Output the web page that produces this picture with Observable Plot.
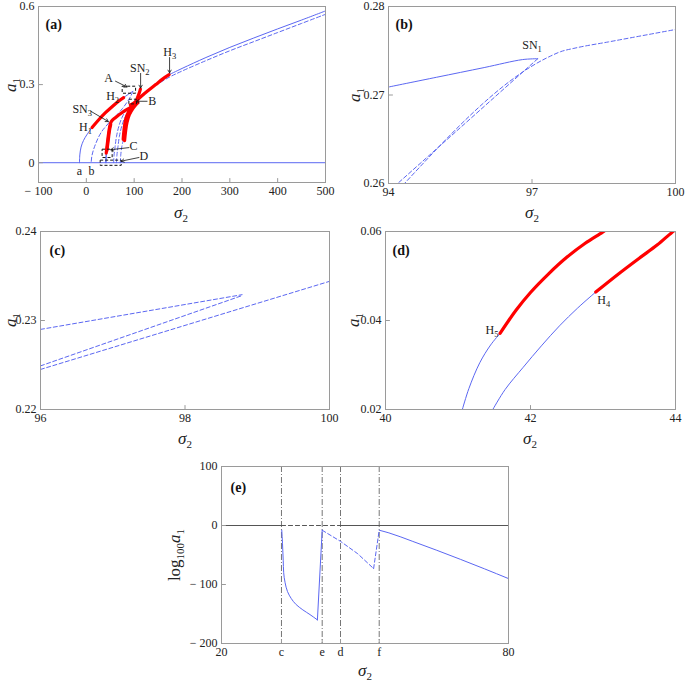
<!DOCTYPE html>
<html>
<head>
<meta charset="utf-8">
<script src="https://cdn.jsdelivr.net/npm/d3@7"></script>
<script src="https://cdn.jsdelivr.net/npm/@observablehq/plot@0.6"></script>
<style>
  body { margin: 0; background: #fff; }
  #fig { position: relative; width: 685px; height: 682px; background: #fff; font-family: "Liberation Serif", "Times New Roman", serif; overflow: hidden; }
  .panel { position: absolute; }
  .lab { position: absolute; font-family: "Liberation Serif", "Times New Roman", serif; font-size: 17px; white-space: nowrap; color: #222; line-height: 1; background: transparent; pointer-events: none; }
  .lab sub { font-size: 11px; vertical-align: -0.3em; font-style: normal; }
  .lab i { font-style: italic; }
</style>
</head>
<body>
<div id="fig"></div>
<script>
// ---------------- DATA ----------------
// Panel (a): amplitude a1 versus sigma2
const aTrivial = [[-100, 0], [500, 0]];
const aBranchSolidLow = [[-14.3, 0], [-13.6, 0.03], [-11, 0.06], [-6, 0.085], [2, 0.11], [12, 0.135]];
const aRedH1 = [[12, 0.135], [25, 0.163], [40, 0.192], [55, 0.217], [68, 0.237], [78, 0.25]];
const aBranchSolidHigh = [[78, 0.25], [88, 0.263], [97.1, 0.274]];
const aDashedFold = [[97.1, 0.274], [93, 0.256], [85, 0.232], [75, 0.207], [62, 0.18], [52, 0.16], [47, 0.153]];
const aDashedB = [[47, 0.153], [40, 0.138], [33, 0.122], [26, 0.1], [20, 0.075], [15, 0.05], [11.5, 0.025], [10, 0]];
const aDashedMid1 = [[57, 0], [58, 0.03], [60, 0.06], [63, 0.1], [68, 0.14], [75, 0.175], [85, 0.205], [97, 0.225], [105, 0.236]];
const aDashedMid2 = [[63, 0], [64, 0.03], [66, 0.06], [69, 0.1], [74, 0.14], [81, 0.175], [90, 0.2], [100, 0.22], [106, 0.23]];
const aDashedMid3 = [[71, 0], [72, 0.03], [74, 0.06], [77, 0.085]];
const aDashedMain = [[100, 0.236], [120, 0.265], [145, 0.297], [175, 0.33], [200, 0.352], [250, 0.392], [300, 0.43], [350, 0.465], [400, 0.5], [450, 0.535], [500, 0.57]];
const aSolidMain = [[173, 0.338], [200, 0.362], [250, 0.404], [300, 0.443], [350, 0.479], [400, 0.514], [450, 0.548], [500, 0.583]];
const aSolidH5 = [[40.6, 0], [41.06, 0.02], [41.58, 0.037]];
const aSolidH4 = [[41.3, 0], [41.48, 0.02], [42.9, 0.0464]];
const aRedH5 = [[41.6, 0.037], [43, 0.06], [45, 0.09], [47.5, 0.125], [50, 0.148], [53, 0.16], [60, 0.172], [75, 0.193], [92, 0.212], [108, 0.231]];
const aRedH4 = [[42.9, 0.046], [44, 0.06], [46, 0.09], [48.5, 0.125], [51, 0.147]];
const aRedRight1 = [[77, 0.09], [79, 0.13], [82, 0.165], [88, 0.195], [97, 0.22], [106, 0.236]];
const aRedRight2 = [[80, 0.085], [82, 0.12], [85, 0.155], [90, 0.185], [98, 0.21], [106, 0.228]];
const aRedH3 = [[173, 0.338], [160, 0.322], [145, 0.3], [130, 0.278], [118, 0.26], [108, 0.243], [100, 0.23], [92, 0.222]];
const aRedSN2 = [[113, 0.283], [111, 0.27], [108, 0.255], [105, 0.24]];
// zoom boxes [x1, x2, y1, y2]
const aBoxes = [[76, 104, 0.265, 0.292], [90, 106, 0.224, 0.242], [34, 55, 0.018, 0.05], [30, 74, -0.012, 0.008]];
// annotation arrows [x1, y1, x2, y2]
const aArrows = [[61, 0.313, 85, 0.291], [113.5, 0.343, 113.5, 0.287], [174, 0.404, 174, 0.345],
                 [127, 0.236, 104, 0.236], [89, 0.058, 51, 0.05], [110, 0.02, 73, 0.006], [9, 0.198, 46, 0.158]];
const aLabelText = ["A", "SN₂", "H₃", "B", "C", "D", "SN₃", "H₂", "H₁", "a", "b"];
const aLabelX = [46.4, 111.8, 174.5, 137.7, 98.6, 120, -8.6, 55, -1.7, -14.3, 10.8];
const aLabelY = [0.324, 0.363, 0.423, 0.236, 0.062, 0.024, 0.207, 0.255, 0.137, -0.033, -0.033];
const aXTicks = [-100, 0, 100, 200, 300, 400, 500];
const aYTicks = [0, 0.3, 0.6];

// Panel (b)
const bSolid = [[94, 0.2709], [95, 0.2720], [96, 0.2731], [96.8, 0.2740], [97.12, 0.2741]];
const bDashed1 = [[97.12, 0.2741], [94.15, 0.2598]];
const bDashed2 = [[94.3, 0.2598], [97.35, 0.2743], [97.6, 0.2749], [97.9, 0.2753], [98.6, 0.2760], [99.3, 0.2767], [100, 0.2774]];
const bLabelText = ["SN₁"];
const bLabelX = [97.0];
const bLabelY = [0.2749];
const bXTicks = [94, 97, 100];
const bYTicks = [0.26, 0.27, 0.28];

// Panel (c)
const cDashed1 = [[96, 0.2290], [98.79, 0.2329]];
const cDashed2 = [[96, 0.2249], [98.79, 0.2328]];
const cDashed3 = [[96, 0.2245], [100, 0.2344]];
const cXTicks = [96, 98, 100];
const cYTicks = [0.22, 0.23, 0.24];

// Panel (d)
const dSolidH5 = [[41.06, 0.02], [41.15, 0.0247], [41.3, 0.0305], [41.45, 0.0345], [41.58, 0.0371]];
const dRedH5 = [[41.58, 0.0371], [41.8, 0.0423], [42.0, 0.0463], [42.25, 0.0505], [42.5, 0.0542], [42.75, 0.0573], [42.99, 0.0598], [43.05, 0.0605]];
const dSolidH4 = [[41.48, 0.02], [41.65, 0.0245], [41.9, 0.0295], [42.15, 0.0343], [42.4, 0.0388], [42.65, 0.0428], [42.9, 0.0464]];
const dRedH4 = [[42.9, 0.0464], [43.2, 0.0503], [43.5, 0.054], [43.75, 0.057], [43.95, 0.0598], [44.05, 0.061]];
const dLabelText = ["H₅", "H₄"];
const dLabelX = [41.47, 43.01];
const dLabelY = [0.0378, 0.0445];
const dXTicks = [40, 42, 44];
const dYTicks = [0.02, 0.04, 0.06];

// Panel (e)
const eTickValues = [20, 32.54, 41.05, 44.88, 52.97, 80];
const eTickLabels = ["20", "c", "e", "d", "f", "80"];
const eMarkers = [32.54, 41.05, 44.88, 52.97];
const eYTicks = [-200, -100, 0, 100];
const eZeroSolid1 = [[20, 0], [32.54, 0]];
const eZeroDashed = [[32.54, 0], [44.88, 0]];
const eZeroSolid2 = [[44.88, 0], [80, 0]];
const eSolid1 = [[32.6, -8], [32.75, -30], [32.9, -59], [33.0, -80], [33.3, -97], [33.8, -112], [34.6, -124], [35.6, -134], [37, -143], [38.5, -151], [40.05, -160]];
const eSolid1Rise = [[40.05, -160], [41.05, -8]];
const eDashed1 = [[41.05, -8], [44.9, -27], [48.5, -48], [51.8, -73]];
const eDashed1Rise = [[51.8, -73], [52.97, -8]];
const eSolid2 = [[52.97, -8], [55, -12.5], [60, -27], [65, -42], [70, -57.5], [75, -73.5], [80, -90]];

// ---------------- DRAWING ----------------
const SERIF = "'Liberation Serif', 'Times New Roman', serif";
const BLUE = "#5b67f2";
const RED = "#ff0000";
const FRAME = "#9a9a9a";
const fig = document.getElementById("fig");
const tickUp = {draw(context, l) { context.moveTo(0, 0); context.lineTo(0, -l); }};
const solid = {stroke: BLUE, strokeWidth: 1};
const dashed = {stroke: BLUE, strokeWidth: 1, strokeDasharray: "4,2.5"};
const red = {stroke: RED, strokeWidth: 3.2};
const line = (data, opts, curve = "catmull-rom") =>
  Plot.line(data, {x: d => d[0], y: d => d[1], curve, clip: true, ...opts});
const numFmt = d => d < 0 ? "\u2212 " + Math.abs(d) : String(d);
const labels = (txt, xs, ys, opts = {}) =>
  Plot.text(txt.map((t, i) => ({t, x: xs[i], y: ys[i]})), {x: "x", y: "y", text: "t", fontSize: 12, fill: "#222", ...opts});

// axis titles first (panels are layered on top)
function axisLabel(html, x, y, rotate = false) {
  const div = document.createElement("div");
  div.className = "lab";
  div.innerHTML = html;
  div.style.left = x + "px";
  div.style.top = y + "px";
  div.style.transform = "translate(-50%, -50%)" + (rotate ? " rotate(-90deg)" : "");
  fig.appendChild(div);
}
const SIG = "<i>σ</i><sub>2</sub>";
const A1 = "<i>a</i><sub>1</sub>";
axisLabel(SIG, 181, 214);
axisLabel(SIG, 532, 214);
axisLabel(SIG, 185, 440);
axisLabel(SIG, 530, 440);
axisLabel(SIG, 365, 672);
axisLabel(A1, 12, 85, true);
axisLabel(A1, 356, 95, true);
axisLabel(A1, 12, 320, true);
axisLabel(A1, 355, 320, true);
axisLabel("log<sub>100</sub><i>a</i><sub>1</sub>", 176, 555, true);

// turn trailing Unicode subscripts into real subscript tspans
const SUBS = "₀₁₂₃₄₅₆₇₈₉";
function fixSubs(svg) {
  svg.querySelectorAll("text").forEach(t => {
    if (t.querySelector("tspan")) return;
    const s = t.textContent;
    const m = s.match(/^(.*?)([₀-₉]+)$/);
    if (!m) return;
    t.textContent = m[1];
    const ts = document.createElementNS("http://www.w3.org/2000/svg", "tspan");
    ts.setAttribute("font-size", "8.5");
    ts.setAttribute("dy", "3");
    ts.textContent = [...m[2]].map(c => SUBS.indexOf(c)).join("");
    t.appendChild(ts);
  });
}

function panel({left, top, width, height, ml, mr, mt, mb, xd, yd, xt, yt, xf = numFmt, yf = numFmt, tag, tagDx, tagDy, marks}) {
  const svg = Plot.plot({
    width, height,
    marginLeft: ml, marginRight: mr, marginTop: mt, marginBottom: mb,
    x: {domain: xd},
    y: {domain: yd},
    style: {fontFamily: SERIF, fontSize: "12px", color: "#222", background: "transparent", overflow: "visible"},
    marks: [
      ...marks,
      Plot.frame({stroke: FRAME, strokeWidth: 1}),
      Plot.axisX({ticks: xt, tickSize: 0, tickPadding: 4, tickFormat: xf, label: null, fontSize: 12}),
      Plot.axisY({ticks: yt, tickSize: 0, tickPadding: 4, tickFormat: yf, label: null, fontSize: 12}),
      Plot.vector(xt, {x: d => d, frameAnchor: "bottom", anchor: "start", length: 4, shape: tickUp, stroke: FRAME, strokeWidth: 1}),
      Plot.vector(yt, {y: d => d, frameAnchor: "left", anchor: "start", length: 4, rotate: 90, shape: tickUp, stroke: FRAME, strokeWidth: 1}),
      Plot.text([tag], {frameAnchor: "top-left", dx: tagDx, dy: tagDy, text: d => d, fontWeight: "bold", fontSize: 14, textAnchor: "start", fill: "#111"})
    ]
  });
  fixSubs(svg);
  svg.classList.add("panel");
  svg.style.left = left + "px";
  svg.style.top = top + "px";
  fig.appendChild(svg);
}

// Panel (a)
panel({
  left: 0, top: 1, width: 340, height: 199, ml: 38, mr: 15, mt: 5, mb: 18,
  xd: [-100, 500], yd: [-0.076, 0.6], xt: aXTicks, yt: aYTicks,
  tag: "(a)", tagDx: 7, tagDy: 13,
  marks: [
    line(aTrivial, solid, "linear"),
    line(aBranchSolidLow, solid),
    line(aBranchSolidHigh, solid),
    line(aSolidH5, solid),
    line(aSolidH4, solid),
    line(aSolidMain, solid),
    line(aDashedFold, dashed),
    line(aDashedB, dashed),
    line(aDashedMid1, dashed),
    line(aDashedMid2, dashed),
    line(aDashedMid3, dashed),
    line(aDashedMain, dashed),
    line(aRedH1, red),
    line(aRedH5, red),
    line(aRedH4, red),
    line(aRedRight1, red),
    line(aRedRight2, red),
    line(aRedH3, red),
    line(aRedSN2, red),
    Plot.rect(aBoxes, {x1: d => d[0], x2: d => d[1], y1: d => d[2], y2: d => d[3], fill: "none", stroke: "#111", strokeWidth: 1, strokeDasharray: "3,2"}),
    Plot.arrow(aArrows, {x1: d => d[0], y1: d => d[1], x2: d => d[2], y2: d => d[3], stroke: "#111", strokeWidth: 0.8, headLength: 6}),
    labels(aLabelText, aLabelX, aLabelY)
  ]
});

// Panel (b)
panel({
  left: 340, top: 1, width: 345, height: 199, ml: 48, mr: 10, mt: 5, mb: 17,
  xd: [94, 100], yd: [0.26, 0.28], xt: bXTicks, yt: bYTicks,
  tag: "(b)", tagDx: 7, tagDy: 13,
  marks: [
    line(bSolid, solid),
    line(bDashed1, dashed, "linear"),
    line(bDashed2, dashed, "monotone-x"),
    labels(bLabelText, bLabelX, bLabelY, {dy: -6})
  ]
});

// Panel (c)
panel({
  left: 0, top: 226, width: 340, height: 200, ml: 40, mr: 11, mt: 5, mb: 17,
  xd: [96, 100], yd: [0.22, 0.24], xt: cXTicks, yt: cYTicks,
  tag: "(c)", tagDx: 9, tagDy: 14,
  marks: [
    line(cDashed1, dashed, "linear"),
    line(cDashed2, dashed, "linear"),
    line(cDashed3, dashed, "linear")
  ]
});

// Panel (d)
panel({
  left: 340, top: 226, width: 345, height: 200, ml: 45, mr: 10, mt: 5, mb: 17,
  xd: [40, 44], yd: [0.02, 0.06], xt: dXTicks, yt: dYTicks,
  tag: "(d)", tagDx: 7, tagDy: 14,
  marks: [
    line(dSolidH5, solid),
    line(dSolidH4, solid),
    line(dRedH5, red),
    line(dRedH4, red),
    labels(dLabelText, dLabelX, dLabelY)
  ]
});

// Panel (e)
panel({
  left: 180, top: 461, width: 340, height: 200, ml: 41, mr: 12, mt: 5, mb: 18,
  xd: [20, 80], yd: [-200, 100], xt: eTickValues, yt: eYTicks,
  xf: d => eTickLabels[eTickValues.indexOf(d)],
  tag: "(e)", tagDx: 9, tagDy: 16,
  marks: [
    Plot.ruleX(eMarkers, {x: d => d, stroke: "#666", strokeWidth: 0.9, strokeDasharray: "6,2,1,2"}),
    line(eZeroSolid1, {stroke: "#555", strokeWidth: 1.2}, "linear"),
    line(eZeroDashed, {stroke: "#555", strokeWidth: 1.2, strokeDasharray: "4,3"}, "linear"),
    line(eZeroSolid2, {stroke: "#555", strokeWidth: 1.2}, "linear"),
    line(eSolid1, solid, "monotone-y"),
    line(eSolid1Rise, solid, "linear"),
    line(eDashed1, dashed, "linear"),
    line(eDashed1Rise, dashed, "linear"),
    line(eSolid2, solid, "monotone-x")
  ]
});
</script>
</body>
</html>
